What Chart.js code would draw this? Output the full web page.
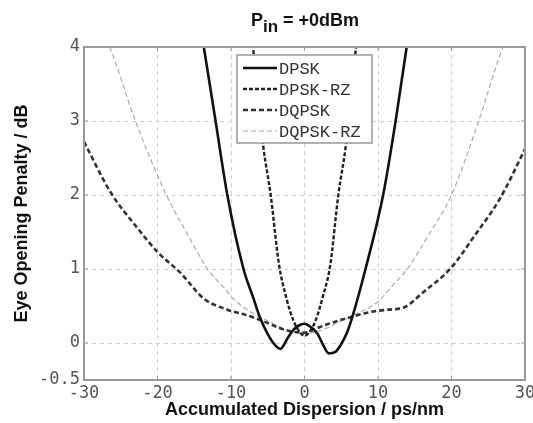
<!DOCTYPE html>
<html>
<head>
<meta charset="utf-8">
<script src="https://cdn.jsdelivr.net/npm/chart.js@4/dist/chart.umd.min.js"></script>
<style>
  html,body{margin:0;padding:0;background:#fff;}
  #wrap{position:relative;width:533px;height:423px;}
  #title{position:absolute;left:0;width:610px;top:10px;text-align:center;font:bold 18px "Liberation Sans",Arial,sans-serif;color:#111;}
  #title sub{font-size:17px;vertical-align:-6px;line-height:0;}
  canvas{position:absolute;left:0;top:0;}
</style>
</head>
<body>
<div id="wrap">
  <canvas id="c" width="533" height="423"></canvas>
  <div id="title">P<sub>in</sub> = +0dBm</div>
</div>
<script>
// ---- data ----
const seriesLabels = ["DPSK", "DPSK-RZ", "DQPSK", "DQPSK-RZ"];
const xTicks = [-30, -20, -10, 0, 10, 20, 30];
const yTicks = [-0.5, 0, 1, 2, 3, 4];

const dpskX = [-14.2, -13.7, -12.1, -10.5, -8.3, -7, -6, -5, -4, -3.3, -2.2, -1.5, -0.7, 0, 0.8, 1.8, 2.6, 3.3, 4.2, 4.9, 5.7, 6.5, 8.3, 10.7, 12.4, 13.9, 14.3];
const dpskY = [4.3, 4, 3, 2, 1, 0.62, 0.33, 0.12, -0.03, -0.08, 0.08, 0.18, 0.24, 0.26, 0.22, 0.12, -0.04, -0.14, -0.12, -0.03, 0.12, 0.35, 1, 2, 3, 4, 4.3];

const dpskRzX = [-7.2, -6.3, -5.6, -4.6, -3.5, -2.5, -1.5, -0.5, 0, 0.5, 1.5, 2.5, 3.5, 4.6, 5.6, 6.3, 7.2];
const dpskRzY = [4.2, 3.3, 2.65, 2.0, 1.08, 0.62, 0.3, 0.13, 0.1, 0.13, 0.3, 0.63, 1.05, 2.0, 2.65, 3.3, 4.2];

const dqpskX = [-30, -26.4, -22.7, -20, -16.9, -13.7, -10.5, -8, -6, -3.3, -1.5, 0, 1.2, 3, 6.3, 9, 11.3, 13.5, 16.2, 19.9, 23, 26.7, 30];
const dqpskY = [2.72, 2.04, 1.55, 1.23, 0.95, 0.6, 0.45, 0.38, 0.31, 0.2, 0.15, 0.14, 0.18, 0.25, 0.35, 0.42, 0.45, 0.48, 0.69, 1.01, 1.43, 1.97, 2.62];

const dqpskRzX = [-27, -26.5, -23, -18.8, -15.8, -13.2, -11, -9.5, -7, -5, -3, -1, 0, 1, 3, 5, 7.2, 9.9, 12, 14, 16.7, 20, 23.7, 27, 27.5];
const dqpskRzY = [4.1, 4, 3, 2, 1.45, 1.0, 0.75, 0.58, 0.4, 0.3, 0.2, 0.14, 0.13, 0.14, 0.2, 0.3, 0.4, 0.55, 0.78, 1.0, 1.43, 2.0, 3.0, 4.0, 4.1];

const pts = (xs, ys) => xs.map((x, i) => ({x: x, y: ys[i]}));

const styles = [
  {borderColor: "#111", borderWidth: 2.6, borderDash: []},
  {borderColor: "#222", borderWidth: 2.4, borderDash: [4, 2]},
  {borderColor: "#333", borderWidth: 2.6, borderDash: [5, 3]},
  {borderColor: "#aaa", borderWidth: 1.2, borderDash: [5, 3]}
];
const dataSets = [pts(dpskX, dpskY), pts(dpskRzX, dpskRzY), pts(dqpskX, dqpskY), pts(dqpskRzX, dqpskRzY)];

const legendPlugin = {
  id: "boxLegend",
  afterDatasetsDraw(chart) {
    const ctx = chart.ctx;
    const bx = 237, by = 55, bw = 135, bh = 88;
    ctx.save();
    ctx.fillStyle = "#fff";
    ctx.fillRect(bx, by, bw, bh);
    ctx.strokeStyle = "#999";
    ctx.lineWidth = 1.5;
    ctx.strokeRect(bx, by, bw, bh);
    ctx.font = '17px "Liberation Mono", "Courier New", monospace';
    ctx.textBaseline = "middle";
    ctx.fillStyle = "#333";
    chart.data.datasets.forEach((ds, i) => {
      const y = by + 13 + i * 21;
      ctx.strokeStyle = ds.borderColor;
      ctx.lineWidth = ds.borderWidth;
      ctx.setLineDash(ds.borderDash || []);
      ctx.beginPath();
      ctx.moveTo(bx + 6, y);
      ctx.lineTo(bx + 40, y);
      ctx.stroke();
      ctx.setLineDash([]);
      ctx.fillText(ds.label, bx + 42, y + 1);
    });
    ctx.restore();
  }
};

const framePlugin = {
  id: "frame",
  afterDraw(chart) {
    const a = chart.chartArea, ctx = chart.ctx;
    ctx.save();
    ctx.strokeStyle = "#999";
    ctx.lineWidth = 2;
    ctx.strokeRect(a.left, a.top, a.right - a.left, a.bottom - a.top);
    ctx.lineWidth = 1;
    const xs = chart.scales.x, ys = chart.scales.y;
    xTicks.forEach(v => {
      const px = xs.getPixelForValue(v);
      ctx.beginPath();
      ctx.moveTo(px, a.bottom); ctx.lineTo(px, a.bottom - 4);
      ctx.moveTo(px, a.top); ctx.lineTo(px, a.top + 4);
      ctx.stroke();
    });
    yTicks.forEach(v => {
      const py = ys.getPixelForValue(v);
      ctx.beginPath();
      ctx.moveTo(a.left, py); ctx.lineTo(a.left + 4, py);
      ctx.moveTo(a.right, py); ctx.lineTo(a.right - 4, py);
      ctx.stroke();
    });
    ctx.restore();
  }
};

new Chart(document.getElementById("c"), {
  type: "line",
  data: {
    datasets: dataSets.map((d, i) => Object.assign({
      label: seriesLabels[i],
      data: d,
      pointRadius: 0,
      fill: false,
      cubicInterpolationMode: "monotone"
    }, styles[i]))
  },
  options: {
    responsive: false,
    animation: false,
    layout: {padding: {top: 47, right: 8, left: 0, bottom: 0}},
    plugins: {legend: {display: false}, title: {display: false}, tooltip: {enabled: false}},
    scales: {
      x: {
        type: "linear", min: -30, max: 30,
        afterBuildTicks: s => { s.ticks = xTicks.map(v => ({value: v})); },
        afterFit: s => { s.height = 43; s.paddingLeft = 0; s.paddingRight = 0; },
        grid: {color: "#d0d0d0", drawTicks: false},
        border: {display: false, dash: [4, 4]},
        ticks: {padding: 3, color: "#555", font: {family: '"DejaVu Sans Mono", monospace', size: 17}, maxRotation: 0, autoSkip: false},
        title: {display: true, text: "Accumulated Dispersion / ps/nm", color: "#111", padding: {top: 0, bottom: 2},
                font: {family: '"Liberation Sans", Arial, sans-serif', size: 18, weight: "bold"}}
      },
      y: {
        type: "linear", min: -0.5, max: 4,
        afterBuildTicks: s => { s.ticks = yTicks.map(v => ({value: v})); },
        afterFit: s => { s.width = 84; s.paddingTop = 0; s.paddingBottom = 0; },
        grid: {color: "#d0d0d0", drawTicks: false},
        border: {display: false, dash: [4, 4]},
        ticks: {padding: 4, color: "#555", font: {family: '"DejaVu Sans Mono", monospace', size: 17}, autoSkip: false},
        title: {display: true, text: "Eye Opening Penalty / dB", color: "#111", padding: {top: 11, bottom: 0},
                font: {family: '"Liberation Sans", Arial, sans-serif', size: 18, weight: "bold"}}
      }
    }
  },
  plugins: [framePlugin, legendPlugin]
});
</script>
</body>
</html>
